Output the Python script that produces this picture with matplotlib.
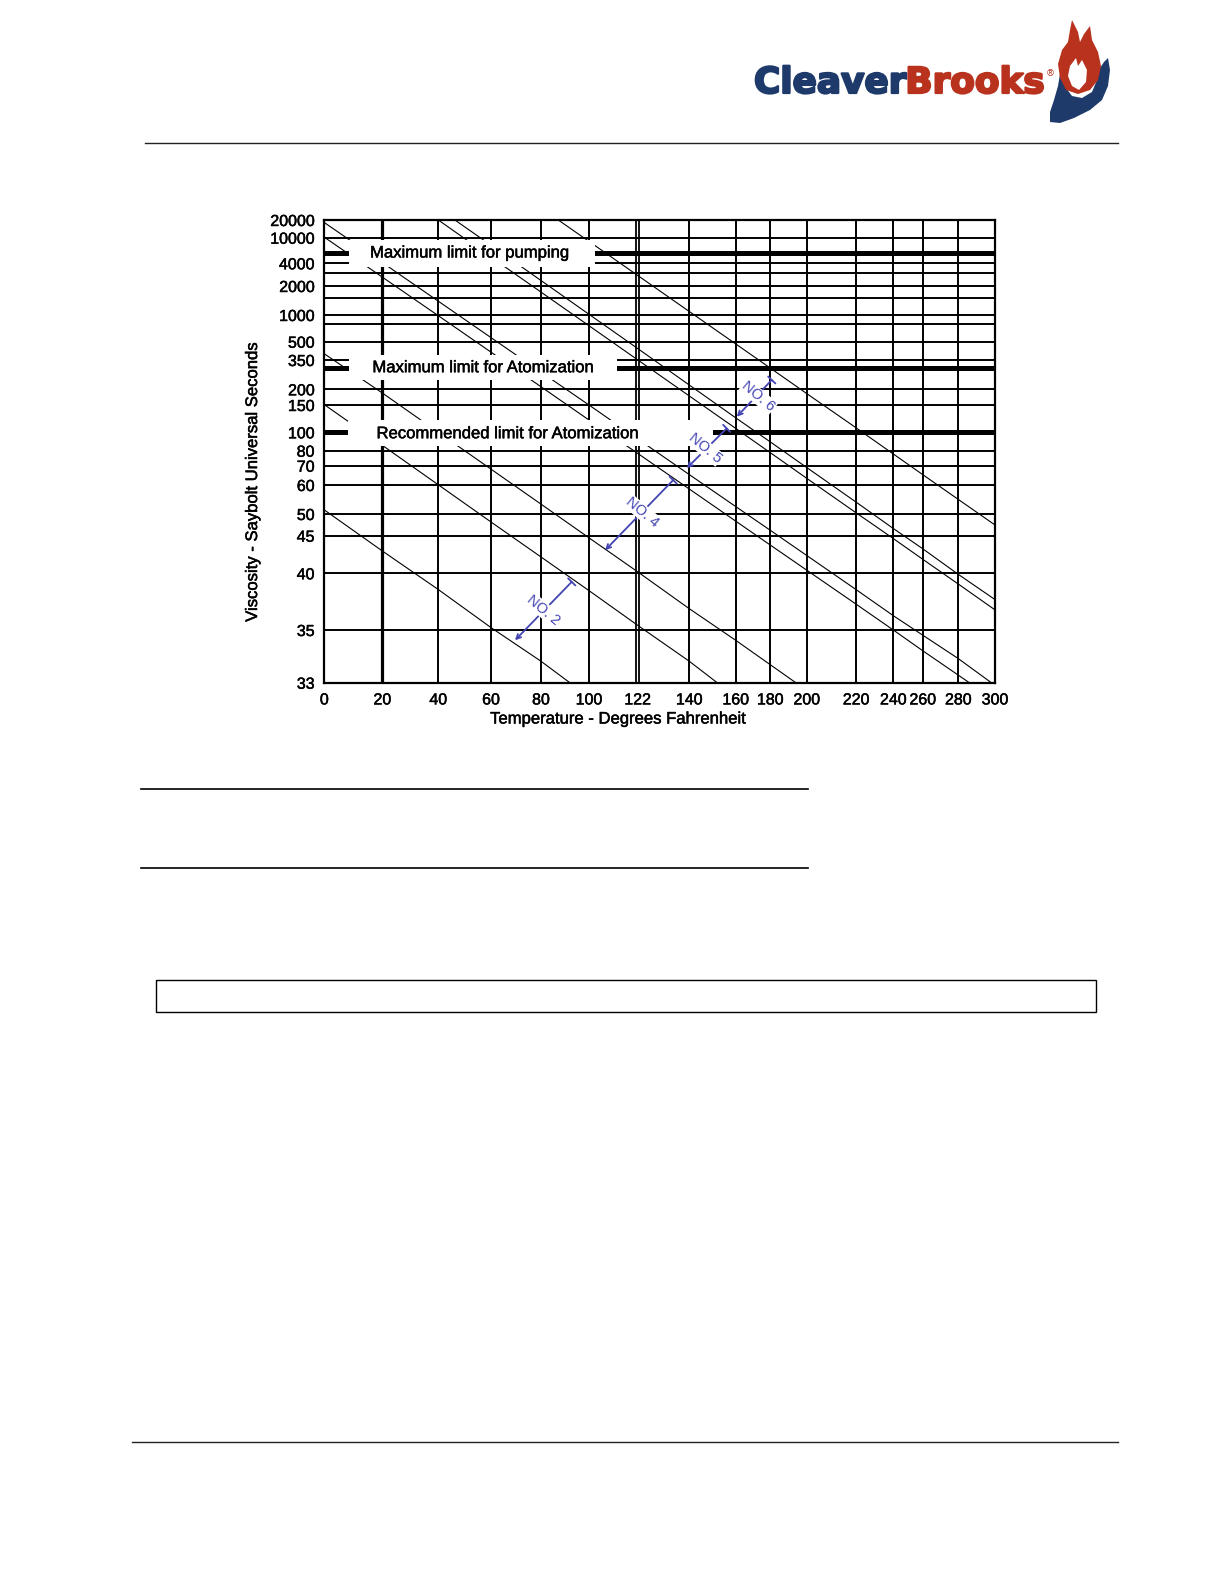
import numpy as np
import matplotlib
matplotlib.use("Agg")
import matplotlib.pyplot as plt
import matplotlib.patheffects as pe
from matplotlib.patches import Rectangle, Polygon
from matplotlib.lines import Line2D

plt.rcParams['font.family'] = ['Liberation Sans', 'DejaVu Sans']

# ---------------- data ----------------
temp_ticks = [0, 20, 40, 60, 80, 100, 122, 140, 160, 180, 200, 220, 240, 260, 280, 300]
visc_ticks = [33, 35, 40, 45, 50, 60, 70, 80, 100, 150, 200, 350, 500, 1000, 2000, 4000, 10000, 20000]
visc_tick_labels = [str(v) for v in visc_ticks]
visc_extra_rules = [800, 1500, 3000]          # unlabelled rulings of the chart paper

limit_names = ["Maximum limit for pumping",
               "Maximum limit for Atomization",
               "Recommended limit for Atomization"]
limit_values = [5700, 300, 100]

# viscosity lines (temperature F, viscosity SSU)
a_temp = [0, 20, 40, 60, 80, 92]
a_visc = [51.3, 42.9, 38.5, 35.2, 33.8, 33.0]
b_temp = [0, 20, 40, 60, 80, 100, 122, 140, 152]
b_visc = [151, 85.4, 60.1, 48.1, 42.1, 38.4, 35.4, 33.8, 33.0]
c_temp = [0, 20, 40, 60, 80, 100, 122, 140, 160, 194]
c_visc = [395, 187, 100, 68.1, 53.2, 44.7, 40.2, 36.8, 34.6, 33.0]
d1_temp = [0, 20, 40, 60, 80, 100, 122, 140, 160, 180, 200, 220, 240, 260, 286]
d1_visc = [10200, 2625, 982, 408, 210, 120, 78.2, 58.5, 48.3, 43.7, 40.4, 37.2, 35.0, 34.2, 33.0]
d2_temp = [0, 20, 40, 60, 80, 100, 122, 140, 160, 180, 200, 220, 240, 260, 280, 298]
d2_visc = [18100, 4115, 1391, 556, 278, 150, 92.5, 65.2, 52.4, 46.2, 42.3, 38.5, 36.2, 34.8, 33.9, 33.0]
e1_temp = [40, 60, 80, 100, 122, 140, 160, 180, 200, 220, 240, 260, 280, 300]
e1_visc = [20000, 4994, 1729, 757, 352, 177, 106, 78.6, 63.3, 50.4, 44.6, 41.8, 39.0, 36.7]
e2_temp = [46.3, 60, 80, 100, 122, 140, 160, 180, 200, 220, 240, 260, 280, 300]
e2_visc = [20000, 7620, 2365, 1017, 439, 217, 124, 89.0, 69.0, 53.9, 46.6, 43.2, 39.9, 37.6]
f_temp = [87.2, 100, 122, 140, 160, 180, 200, 220, 240, 260, 280, 300]
f_visc = [20000, 8759, 2772, 1087, 479, 300, 185, 107, 77.7, 65.2, 54.8, 47.4]

# grade range markers
grade_names = ["NO. 2", "NO. 4", "NO. 5", "NO. 6"]
grade_low = [(69.6, 34.6), (107.3, 43.0), (139.1, 68.6), (160.6, 126)]
grade_high = [(92.8, 39.2), (134.4, 62.4), (156.1, 106), (180.8, 239)]
grade_text = [(81.0, 36.7), (123.5, 50.7), (146.8, 82.4), (173.1, 175)]

# ---------------- chart-paper spacing (layout) ----------------
temp_paper = [0, 58, 114, 166.7, 216.7, 264.7, 313.2, 365, 411.4, 446, 482.4,
              531.7, 569, 598.4, 634, 670.7]
visc_paper = [0, 52.7, 109.4, 147, 168.7, 197.7, 217, 232, 250.4, 277.7, 293.4,
              322.7, 341, 367.7, 396.7, 419.4, 445, 462.7]
log_visc_ticks = np.log(visc_ticks)


def x_fwd(v):
    return np.interp(np.asarray(v, float), temp_ticks, temp_paper)


def x_inv(p):
    return np.interp(np.asarray(p, float), temp_paper, temp_ticks)


def y_fwd(v):
    v = np.asarray(v, float)
    with np.errstate(divide='ignore', invalid='ignore'):
        lv = np.log(np.where(v > 0, v, np.nan))
    return np.interp(lv, log_visc_ticks, visc_paper)


def y_inv(p):
    return np.exp(np.interp(np.asarray(p, float), visc_paper, log_visc_ticks))


W, H = 1224, 1584
fig = plt.figure(figsize=(W / 100, H / 100), dpi=100)
fig.patch.set_facecolor('white')

heavy = [pe.withStroke(linewidth=0.35, foreground='black')]


def fxp(px):
    return px / W


def fyp(py):
    return 1 - py / H


ax = fig.add_axes([fxp(324.3), fyp(682.7), (995 - 324.3) / W, (682.7 - 220) / H])
ax.set_xscale('function', functions=(x_fwd, x_inv))
ax.set_yscale('function', functions=(y_fwd, y_inv))
ax.set_xlim(0, 300)
ax.set_ylim(33, 20000)

ax.set_xticks(temp_ticks)
ax.set_xticklabels([str(t) for t in temp_ticks])
ax.set_yticks(visc_ticks)
ax.set_yticklabels(visc_tick_labels)
ax.minorticks_off()
ax.tick_params(axis='both', length=0, labelsize=11.5, colors='black')
ax.tick_params(axis='x', pad=7)
ax.tick_params(axis='y', pad=7)
for lab in ax.get_xticklabels() + ax.get_yticklabels():
    lab.set_path_effects(heavy)

for s in ax.spines.values():
    s.set_linewidth(1.6)
    s.set_color('black')
    s.set_zorder(6)

# grid of chart paper
for t in temp_ticks[1:-1]:
    if t == 122:
        ax.axvline(121.2, color='black', lw=1.3, zorder=1)
        ax.axvline(122.5, color='black', lw=1.3, zorder=1)
    else:
        ax.axvline(t, color='black', lw=2.3 if t == 20 else 1.4, zorder=1)
for v in visc_ticks[1:-1] + visc_extra_rules:
    ax.axhline(v, color='black', lw=1.4, zorder=1)

# limit lines (heavy)
for v in limit_values:
    ax.axhline(v, color='black', lw=3.6, zorder=2.5)

# viscosity lines
curves = [(a_temp, a_visc), (b_temp, b_visc), (c_temp, c_visc), (d1_temp, d1_visc),
          (d2_temp, d2_visc), (e1_temp, e1_visc), (e2_temp, e2_visc), (f_temp, f_visc)]
for tt, vv in curves:
    ax.plot(tt, vv, color='black', lw=0.8, zorder=2, solid_capstyle='butt')

# white label boxes over the limit lines
label_boxes = [(0.0368, 0.8995, 0.3667, 0.0573),
               (0.0368, 0.6542, 0.3994, 0.0540),
               (0.0353, 0.5116, 0.5442, 0.0561)]
label_centers = [(0.2172, 0.9287), (0.2374, 0.6808), (0.2739, 0.5381)]
for name, (bx, by, bw, bh), (cx, cy) in zip(limit_names, label_boxes, label_centers):
    ax.add_patch(Rectangle((bx, by), bw, bh, transform=ax.transAxes,
                           facecolor='white', edgecolor='none', zorder=3))
    ax.text(cx, cy, name, transform=ax.transAxes, ha='center', va='center',
            fontsize=12, color='black', zorder=4, path_effects=heavy)

# grade range markers
blue = '#4343b4'
for name, lo, hi, tp in zip(grade_names, grade_low, grade_high, grade_text):
    ax.annotate('', xy=lo, xytext=hi,
                arrowprops=dict(arrowstyle=']->, widthA=0.45, lengthA=0',
                                color=blue, lw=1.3, shrinkA=0, shrinkB=0,
                                mutation_scale=8), zorder=5)
    ax.text(tp[0], tp[1], name, rotation=-40, rotation_mode='anchor',
            ha='center', va='center', color=blue, fontsize=10.5, zorder=6,
            bbox=dict(facecolor='white', edgecolor='none', pad=0.4))

ax.set_xlabel('Temperature - Degrees Fahrenheit', fontsize=12, va='center')
ax.xaxis.set_label_coords(0.438, -0.0785)
ax.set_ylabel('Viscosity - Saybolt Universal Seconds', fontsize=12, va='center', ha='center')
ax.yaxis.set_label_coords(-0.107, 0.434)
ax.xaxis.label.set_path_effects(heavy)
ax.yaxis.label.set_path_effects(heavy)

# ---------------- page furniture ----------------
def hrule(y, x0, x1, lw=1.0, color='#222222'):
    fig.add_artist(Line2D([fxp(x0), fxp(x1)], [fyp(y), fyp(y)],
                          transform=fig.transFigure, color=color, lw=lw))

hrule(143, 144.5, 1117.6, lw=1.0)
hrule(789, 140.5, 808, lw=1.2, color='black')
hrule(868, 140.5, 808, lw=1.2, color='black')
hrule(1442, 132, 1118, lw=1.0)
fig.add_artist(Rectangle((fxp(155.6), fyp(1012)), (1096.4 - 155.6) / W, (1012 - 980) / H,
                         transform=fig.transFigure, facecolor='none',
                         edgecolor='black', lw=1.0))

# logo
navy = '#1d3a6b'
red = '#b8321e'
t1 = fig.text(fxp(754), fyp(83), 'Cleaver', color=navy, fontsize=25.8,
              fontweight='bold', family='DejaVu Sans', ha='left', va='center',
              path_effects=[pe.withStroke(linewidth=1.6, foreground=navy)])
fig.canvas.draw()
bb = t1.get_window_extent(fig.canvas.get_renderer())
t2 = fig.text(bb.x1 / W - 0.001, fyp(83), 'Brooks', color=red, fontsize=25.8,
              fontweight='bold', family='DejaVu Sans', ha='left', va='center',
              path_effects=[pe.withStroke(linewidth=1.6, foreground=red)])
fig.canvas.draw()
bb2 = t2.get_window_extent(fig.canvas.get_renderer())
fig.text(bb2.x1 / W + 0.001, fyp(74), '®', color=red, fontsize=6.5,
         family='DejaVu Sans', ha='left', va='center')

flame = [(1066, 90), (1060, 78), (1058, 64), (1062, 50), (1068, 42), (1070, 30),
         (1072, 20), (1078, 32), (1080, 42), (1084, 34), (1090, 26), (1092, 40),
         (1098, 52), (1101, 66), (1098, 80), (1090, 90), (1078, 94)]
inner = [(1072, 86), (1068, 76), (1070, 66), (1076, 58), (1078, 66), (1082, 60),
         (1087, 70), (1086, 82), (1079, 90)]
hand = [(1050, 112), (1054, 100), (1058, 86), (1060, 74), (1064, 76), (1066, 88),
        (1072, 96), (1082, 98), (1092, 92), (1097, 80), (1100, 68), (1104, 62),
        (1108, 58), (1110, 70), (1108, 86), (1102, 100), (1090, 110), (1074, 118),
        (1060, 123), (1050, 122)]
for pts, col, z in [(hand, navy, 1), (flame, red, 2), (inner, 'white', 3)]:
    fig.add_artist(Polygon([(fxp(x), fyp(y)) for x, y in pts], closed=True,
                           transform=fig.transFigure, facecolor=col,
                           edgecolor='none', zorder=z))

fig.savefig('out.png', dpi=100, facecolor='white')
